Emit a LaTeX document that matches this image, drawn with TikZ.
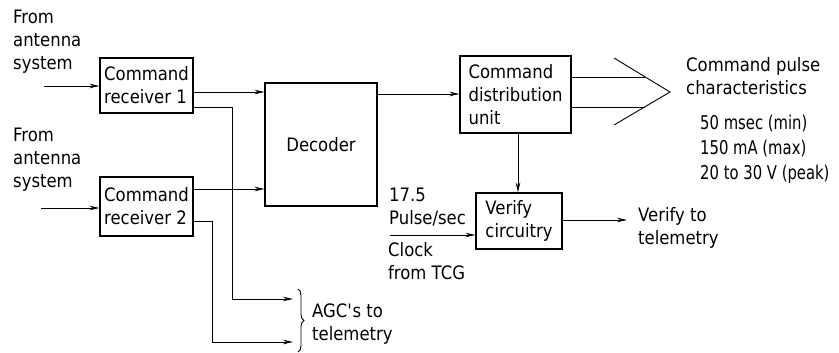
\documentclass[tikz,border=0pt]{standalone}
\usepackage{fontspec}
\setmainfont{DejaVu Sans}[FakeStretch=0.89]
\newfontfamily\specfont{DejaVu Sans}[FakeStretch=0.78]
\usetikzlibrary{arrows.meta,decorations.pathreplacing}
\begin{document}
\begin{tikzpicture}[x=1pt,y=-1pt,
  every node/.style={font=\fontsize{18.5}{23}\selectfont},
  blk/.style={draw,line width=1.1pt,inner sep=0pt,align=left},
  lbl/.style={align=left,inner sep=0pt,anchor=west},
  arr/.style={line width=0.9pt,-{Stealth[length=10pt,width=4.5pt]}},
  ln/.style={line width=0.9pt}]
\useasboundingbox (0,0) rectangle (839,353);
% blocks
\node[blk,minimum width=93pt,minimum height=55pt] (rec1) at (146.5,85.5) {Command\\receiver 1};
\node[blk,minimum width=93pt,minimum height=59pt] (rec2) at (146.5,206.5) {Command\\receiver 2};
\node[blk,minimum width=112pt,minimum height=123pt] (dec) at (321,144.5) {Decoder};
\node[blk,minimum width=111pt,minimum height=77pt] (cdu) at (515.5,94.5) {Command\\distribution\\unit};
\node[blk,minimum width=86pt,minimum height=56pt] (ver) at (519,221) {Verify\\circuitry};
% labels
\node[lbl] (t1) at (13,42) {From\\antenna\\system};
\node[lbl] (t2) at (13,160) {From\\antenna\\system};
\node[lbl] (agc) at (312,324) {AGC\textquotesingle s to\\telemetry};
\node[lbl] (clk1) at (389,207) {17.5\\Pulse/sec};
\node[lbl] (clk2) at (388,261) {Clock\\from TCG};
\node[lbl] (vt) at (638,228) {Verify to\\telemetry};
\node[lbl] (cp) at (686,76) {Command pulse\\characteristics};
\node[lbl,font=\specfont\fontsize{19}{25}\selectfont] (spec) at (700,149) {50 msec (min)\\150 mA (max)\\20 to 30 V (peak)};
% connectors
\coordinate (in1) at (44,86);
\coordinate (in2) at (41,208);
\draw[arr] (in1) -- (rec1.west |- in1);
\draw[arr] (in2) -- (rec2.west |- in2);
\draw[arr] (rec1.east |- 0,92) -- (dec.west |- 0,92);
\draw[arr] (rec2.east |- 0,189) -- (dec.west |- 0,189);
\coordinate (a1) at (293,299);
\coordinate (a2) at (293,342);
\draw[arr] (rec1.east |- 0,107) -| (232,299) -- (a1);
\draw[arr] (rec2.east |- 0,221) -| (212,342) -- (a2);
\draw[decorate,decoration={brace,amplitude=6pt},line width=0.9pt] (298,289) -- (298,352);
\draw[arr] (dec.east |- 0,94) -- (cdu.west |- 0,94);
\coordinate (c1) at (614,58);
\coordinate (c2) at (670,92);
\coordinate (c3) at (614,125);
\draw[ln] (c1) -- (c2) -- (c3);
\draw[ln] (cdu.east |- 0,77) -- (645,77);
\draw[ln] (cdu.east |- 0,107) -- (644.5,107);
\draw[arr] (518,0 |- cdu.south) -- (518,0 |- ver.north);
\coordinate (ck) at (390,235);
\draw[arr] (ck) -- (ver.west |- ck);
\coordinate (vo) at (627,220);
\draw[arr] (ver.east |- vo) -- (vo);
\end{tikzpicture}
\end{document}
